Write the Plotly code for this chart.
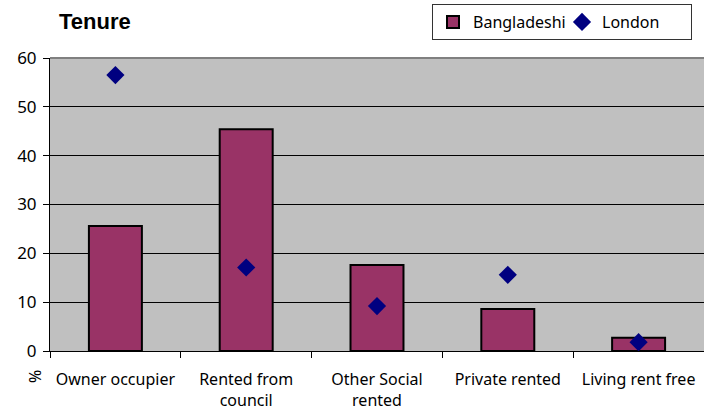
import plotly.graph_objects as go

categories = ["Owner occupier", "Rented from<br>council", "Other Social<br>rented", "Private rented", "Living rent free"]
bangladeshi = [25.6, 45.4, 17.6, 8.6, 2.7]
london = [56.5, 17.1, 9.2, 15.6, 1.8]
y_ticks = [0, 10, 20, 30, 40, 50, 60]

FONT = "Noto Sans"

fig = go.Figure()
fig.add_trace(go.Bar(
    x=categories, y=bangladeshi, name="Bangladeshi",
    marker=dict(color="#993366", line=dict(color="black", width=2)),
))
fig.add_trace(go.Scatter(
    x=categories, y=london, name="London", mode="markers",
    marker=dict(symbol="diamond", color="#000080", size=14),
))

fig.update_layout(
    width=704, height=412,
    margin=dict(l=50, r=0, t=58, b=61, autoexpand=False),
    paper_bgcolor="white",
    plot_bgcolor="#C0C0C0",
    bargap=0.595,
    font=dict(family=FONT, size=16, color="black"),
    showlegend=True,
    legend=dict(
        orientation="h", x=(692 - 50) / 654, xanchor="right", y=1 + (58 - 4) / 293, yanchor="top",
        bordercolor="#333333", borderwidth=1, bgcolor="white",
        font=dict(family=FONT, size=16), itemwidth=30,
        entrywidth=84, entrywidthmode="pixels",
        tracegroupgap=0,
    ),
    annotations=[
        dict(text="<b>Tenure</b>", xref="paper", yref="paper",
             x=(57 - 50) / 654, y=1 + (58 - 22) / 293, xanchor="left", yanchor="middle",
             showarrow=False, font=dict(family="Liberation Sans", size=22)),
        dict(text="%", xref="paper", yref="paper",
             x=(35 - 50) / 654, y=-(377 - 351) / 293, xanchor="center", yanchor="middle",
             showarrow=False, textangle=-90, font=dict(family=FONT, size=16)),
    ],
    shapes=[
        dict(type="line", xref="paper", yref="paper", x0=0, x1=1, y0=1, y1=1,
             line=dict(color="#808080", width=2), layer="above"),
    ],
)
fig.update_xaxes(
    showline=True, linecolor="black", linewidth=1, automargin=False,
    ticks="outside", tickson="boundaries", ticklen=6, tickcolor="black",
    ticklabelstandoff=14,
    showgrid=False, tickfont=dict(family=FONT, size=16),
)
fig.update_yaxes(
    range=[0, 60], tickvals=y_ticks, showline=True, linecolor="black", linewidth=1,
    automargin=False,
    ticks="outside", ticklen=6, tickcolor="black", ticklabelstandoff=3,
    showgrid=True, gridcolor="black", gridwidth=1, zeroline=False,
    tickfont=dict(family=FONT, size=17),
)

fig.write_html("out.html", post_script="document.body.style.margin='0';",
               config={"displayModeBar": False})
